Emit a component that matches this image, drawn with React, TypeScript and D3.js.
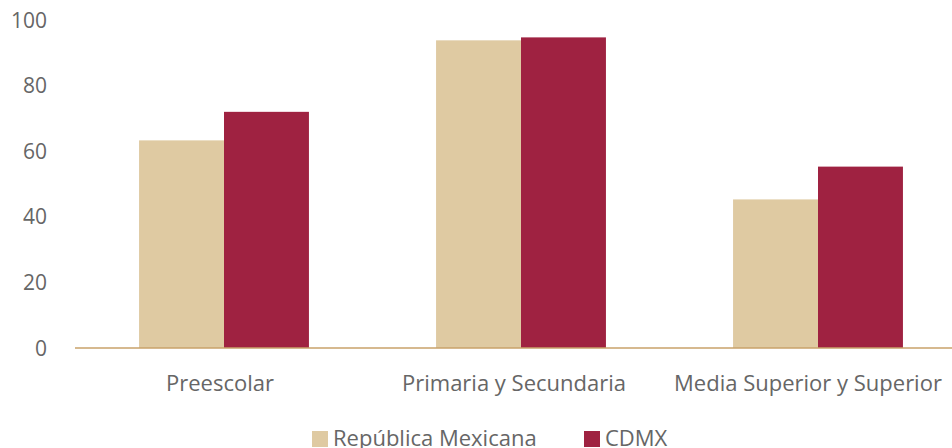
import React from "react";
import * as d3 from "d3";

const categories = ["Preescolar", "Primaria y Secundaria", "Media Superior y Superior"];
const seriesNames = ["República Mexicana", "CDMX"];
const republica = [63.3, 93.8, 45.3];
const cdmx = [72.0, 94.7, 55.3];
const yTicks = [0, 20, 40, 60, 80, 100];
const colors = ["#DFCAA2", "#9F2241"];

const W = 952;
const H = 448;
const FONT = "'Open Sans', 'Noto Sans', sans-serif";
const TEXT = "#666666";

export default function App() {
  const x = d3.scaleBand<string>().domain(categories).range([75.5, 966.5]).paddingInner(0.428).paddingOuter(0.214);
  const x1 = d3.scaleBand<string>().domain(seriesNames).range([0, x.bandwidth()]);
  const xLabel = d3.scalePoint<string>().domain(categories).range([220, 808]);
  const y = d3.scaleLinear().domain([0, 100]).range([348, 20]);
  const series = [republica, cdmx];

  return (
    <svg width={W} height={H} style={{ position: "absolute", left: 0, top: 0, display: "block" }}>
      {yTicks.map((t) => (
        <text key={t} x={47} y={y(t)} dy="0.36em" textAnchor="end" fontFamily={FONT} fontSize={21} fill={TEXT}>
          {t}
        </text>
      ))}
      {categories.map((c, i) => (
        <g key={c}>
          {series.map((s, j) => (
            <rect
              key={j}
              x={(x(c) as number) + (x1(seriesNames[j]) as number)}
              y={y(s[i])}
              width={x1.bandwidth()}
              height={y(0) - y(s[i])}
              fill={colors[j]}
            />
          ))}
          <text x={xLabel(c) as number} y={391} textAnchor="middle" fontFamily={FONT} fontSize={22} fill={TEXT}>
            {c}
          </text>
        </g>
      ))}
      <line x1={75} x2={952} y1={y(0)} y2={y(0)} stroke="#C9A26A" strokeWidth={1.5} />
      {seriesNames.map((n, j) => {
        const lx = j === 0 ? 312 : 584;
        return (
          <g key={n}>
            <rect x={lx} y={431} width={16} height={16} fill={colors[j]} />
            <text x={lx + 21} y={446} fontFamily={FONT} fontSize={22} fill={TEXT}>
              {n}
            </text>
          </g>
        );
      })}
    </svg>
  );
}
